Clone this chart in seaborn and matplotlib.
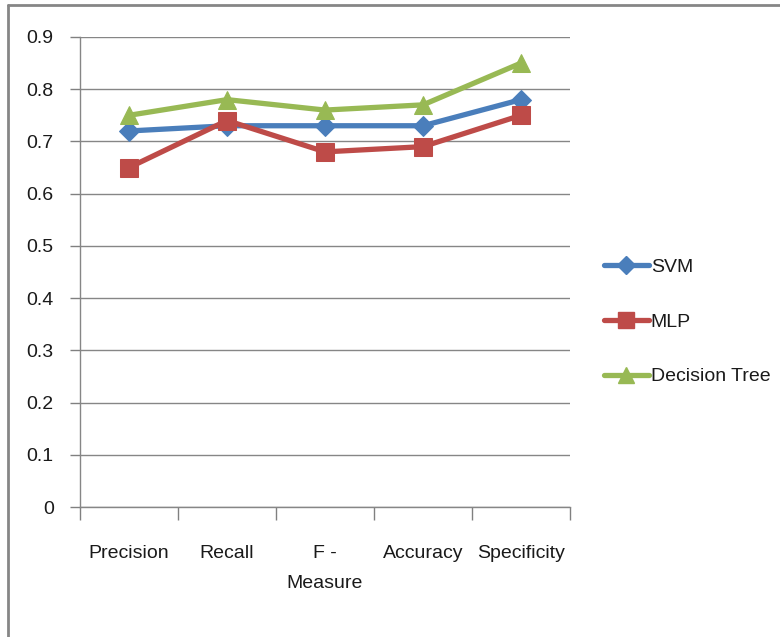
import matplotlib
matplotlib.use("Agg")
import matplotlib.pyplot as plt
from matplotlib.lines import Line2D
import seaborn as sns
import pandas as pd

categories = ["Precision", "Recall", "F -\nMeasure", "Accuracy", "Specificity"]
svm = [0.72, 0.73, 0.73, 0.73, 0.78]
mlp = [0.65, 0.74, 0.68, 0.69, 0.75]
dtree = [0.75, 0.78, 0.76, 0.77, 0.85]
series_names = ["SVM", "MLP", "Decision Tree"]
colors = ["#4A7EBB", "#BE4B48", "#98B954"]
markers = ["D", "s", "^"]
yticks = [0, 0.1, 0.2, 0.3, 0.4, 0.5, 0.6, 0.7, 0.8, 0.9]

sns.set_style("white")
plt.rcParams["font.family"] = ["Liberation Sans", "DejaVu Sans"]

rows = []
for name, vals in zip(series_names, [svm, mlp, dtree]):
    for i, v in enumerate(vals):
        rows.append({"pos": i, "value": v, "series": name})
df = pd.DataFrame(rows)

fig = plt.figure(figsize=(7.8, 6.37), dpi=100)
ax = fig.add_axes([0.1026, 0.204, 0.6282, 0.738])

msizes = [10, 13, 13]
for name, c, m, ms in zip(series_names, colors, markers, msizes):
    sub = df[df["series"] == name]
    sns.lineplot(data=sub, x="pos", y="value", ax=ax, color=c, linewidth=3.8,
                 marker=m, markersize=ms, markeredgecolor=c, label=name,
                 legend=False)

ax.set_xlim(-0.5, 4.5)
ax.set_ylim(0, 0.9)
ax.set_yticks(yticks)
ax.set_yticklabels(["0"] + [f"{t:.1f}" for t in yticks[1:]])
ax.set_xticks(range(len(categories)))
ax.set_xticklabels(categories, linespacing=2.0, va="top")
ax.set_xticks([i - 0.5 for i in range(len(categories) + 1)], minor=True)
ax.tick_params(axis="x", which="major", length=0, pad=27, labelsize=14, labelcolor="#1a1a1a")
ax.tick_params(axis="x", which="minor", length=9, width=1, color="#808080", direction="out", bottom=True)
ax.tick_params(axis="y", length=7, width=1, color="#808080", direction="out", left=True,
               labelsize=14, pad=12, labelcolor="#1a1a1a")
ax.set_xlabel("")
ax.set_ylabel("")
ax.grid(axis="y", color="#868686", linewidth=1)
ax.set_axisbelow(True)
for s in ["top", "right"]:
    ax.spines[s].set_visible(False)
for s in ["left", "bottom"]:
    ax.spines[s].set_color("#868686")
    ax.spines[s].set_linewidth(1)

handles = [Line2D([0], [0], color=c, linewidth=3.8, marker=m, markersize=ms * 0.9,
                  markeredgecolor=c) for c, m, ms in zip(colors, markers, msizes)]
fig.legend(handles, series_names, loc="center left", bbox_to_anchor=(0.752, 0.4945),
           frameon=False, fontsize=14, handlelength=2.3, handletextpad=0.1,
           labelspacing=1.9, labelcolor="#1a1a1a")

fig.add_artist(Line2D([0.0103, 1.0], [1 - 5 / 637, 1 - 5 / 637], color="#868686", linewidth=2,
                      transform=fig.transFigure))
fig.add_artist(Line2D([0.0103, 0.0103], [0, 1 - 5 / 637], color="#868686", linewidth=2,
                      transform=fig.transFigure))

fig.savefig("out.png", dpi=100)
